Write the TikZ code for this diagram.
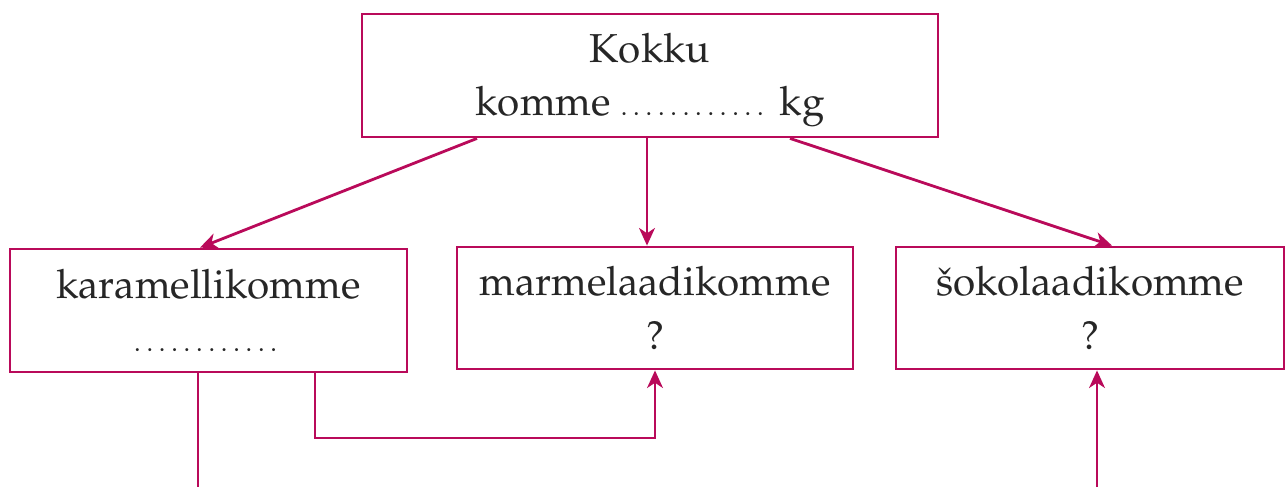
\documentclass[tikz,border=0pt]{standalone}
\usepackage[T1]{fontenc}
\usepackage{mathpazo}
\usetikzlibrary{arrows.meta,calc}
\definecolor{kast}{RGB}{185,10,90}
\newcommand{\punktid}{{\fontsize{15}{15}\selectfont\foreach \i in {1,...,12}{.\kern3.3pt}\unskip}}
\begin{document}
\begin{tikzpicture}[x=0.02cm,y=-0.02cm,line width=1.6pt,
  kast/.style={draw=kast,line width=1.6pt,inner sep=0pt,align=center,
    font=\fontsize{23}{30.5}\selectfont,text=black!85},
  nool/.style={draw=kast,-{Stealth[length=10pt,width=9pt,inset=3pt]}}]
\useasboundingbox (0,0) rectangle (1287,487);
\node[kast,minimum width=576*0.02cm,minimum height=123*0.02cm] (kokku) at (650,75.5) {\rule{0pt}{22pt}Kokku\\komme \punktid\ kg};
\node[kast,minimum width=397*0.02cm,minimum height=123*0.02cm] (karamell) at (208.5,310.5) {karamellikomme\\\punktid};
\node[kast,minimum width=396*0.02cm,minimum height=122*0.02cm] (marmelaad) at (655,308) {marmelaadikomme\\?};
\node[kast,minimum width=388*0.02cm,minimum height=122*0.02cm] (sokolaad) at (1090,308) {\v{s}okolaadikomme\\?};
\coordinate (alla1) at (198,487);
\coordinate (alla2) at (1097,487);
\draw[nool] ($(kokku.south)+(-173,0)$) -- ($(karamell.north)+(-8.5,0)$);
\draw[nool] ($(kokku.south)+(-3,0)$) -- ($(marmelaad.north)+(-8,0)$);
\draw[nool] ($(kokku.south)+(140,0)$) -- ($(sokolaad.north)+(22,0)$);
\draw[draw=kast] ($(karamell.south)+(-10.5,0)$) -- (alla1);
\draw[nool] ($(karamell.south)+(106.5,0)$) |- (655,438) -- (marmelaad.south);
\draw[nool] (alla2) -- ($(sokolaad.south)+(7,0)$);
\end{tikzpicture}
\end{document}
